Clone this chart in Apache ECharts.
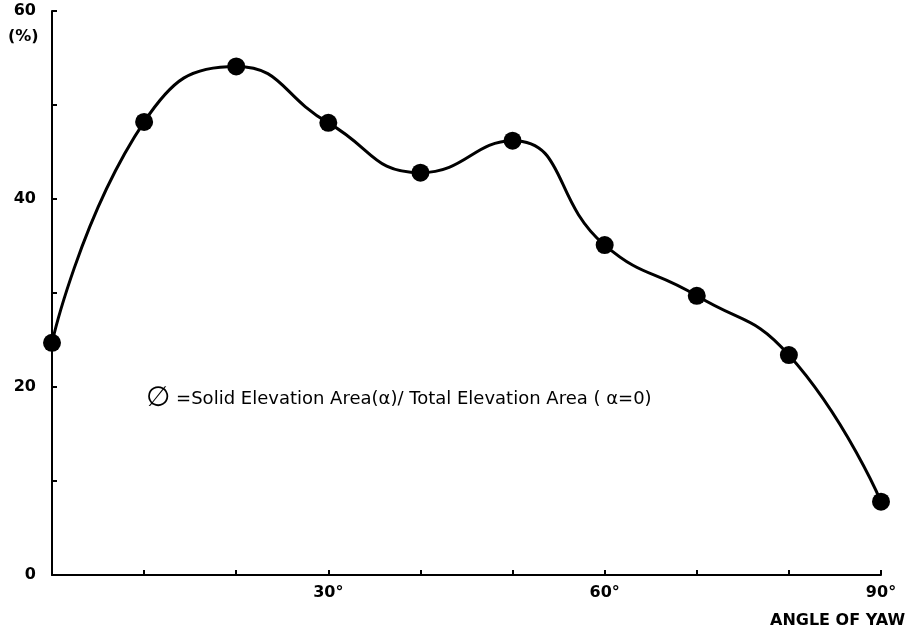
<!DOCTYPE html>
<html>
<head>
<meta charset="utf-8">
<script src="https://cdn.jsdelivr.net/npm/echarts@6/dist/echarts.min.js"></script>
<style>html,body{margin:0;padding:0;background:#fff}#c{width:915px;height:641px}</style>
</head>
<body>
<div id="c"></div>
<script>
const angles = [0, 10, 20, 30, 40, 50, 60, 70, 80, 90];
const phiValues = [24.7, 48.2, 54.1, 48.1, 42.8, 46.2, 35.1, 29.7, 23.4, 7.8];
const yTickLabels = ['0', '20', '40', '60'];
const xTickLabels = ['30°', '60°', '90°'];

const chart = echarts.init(document.getElementById('c'));
chart.setOption({
  backgroundColor: '#fff',
  animation: false,
  grid: { left: 52, right: 34, top: 11, bottom: 66 },
  xAxis: {
    type: 'value', min: 0, max: 90, interval: 10,
    axisLine: { lineStyle: { color: '#000', width: 2 } },
    axisTick: { inside: true, length: 5, lineStyle: { color: '#000', width: 2 } },
    splitLine: { show: false },
    axisLabel: {
      margin: 10, color: '#000', fontFamily: 'DejaVu Sans', fontWeight: 'bold', fontSize: 16,
      formatter: v => xTickLabels.includes(v + '°') ? v + '°' : ''
    }
  },
  yAxis: {
    type: 'value', min: 0, max: 60, interval: 10,
    axisLine: { show: true, lineStyle: { color: '#000', width: 2 } },
    axisTick: { show: true, inside: true, length: 5, lineStyle: { color: '#000', width: 2 } },
    splitLine: { show: false },
    axisLabel: {
      margin: 16, color: '#000', fontFamily: 'DejaVu Sans', fontWeight: 'bold', fontSize: 16,
      formatter: v => yTickLabels.includes(String(v)) ? String(v) : ''
    }
  },
  series: [{
    type: 'line',
    data: angles.map((a, i) => [a, phiValues[i]]),
    smooth: 0.5,
    symbol: 'circle', symbolSize: 18,
    itemStyle: { color: '#000' },
    lineStyle: { color: '#000', width: 3 }
  }],
  graphic: [
    { type: 'text', left: 8, top: 29, style: { text: '(%)', fill: '#000', font: 'bold 16px DejaVu Sans' } },
    { type: 'text', left: 770, top: 613, style: { text: 'ANGLE OF YAW', fill: '#000', font: 'bold 16px DejaVu Sans' } },
    { type: 'text', left: 146, top: 385, style: {
        text: '{p|∅} =Solid Elevation Area(α)/ Total Elevation Area ( α=0)',
        fill: '#000', font: '18px DejaVu Sans',
        rich: { p: { fontSize: 28, fontFamily: 'DejaVu Sans', fill: '#000' } }
    } }
  ]
});
</script>
</body>
</html>
